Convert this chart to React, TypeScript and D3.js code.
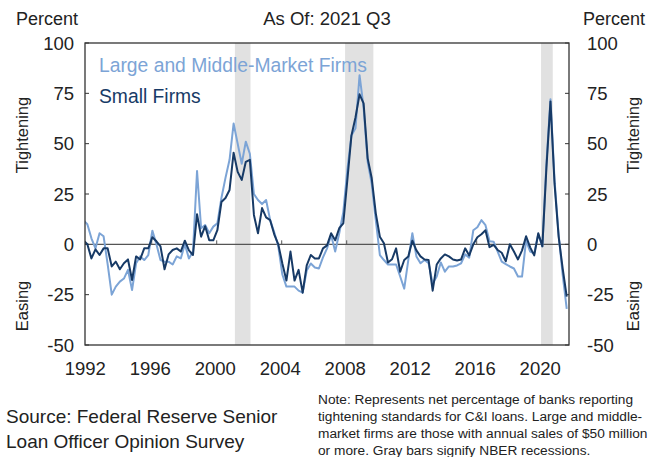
import React from "react";
import * as d3 from "d3";

// Quarterly survey results, 1991 Q4 .. 2021 Q3 (net % of banks tightening)
const startYear = 1991;
const startQuarter = 4;

const largeFirms = [
  12, 10, 3, -2, 5.5, 4, -10, -25, -21, -18.5,
  -17, -12.7, -22.7, -9.4, -6, -7.8, -5.3, 6.8, 0, -7.8,
  -8.6, -8.6, -10, -6, -7, 0, -7, -3.6, 36.4, 8,
  9.6, 5.5, 8.8, 10.4, 23, 33, 42, 60, 50, 40,
  51, 45, 25, 22, 20, 22, 12, 6, -1, -15,
  -21, -21, -21, -23, -24, -13, -9.5, -11.5, -12, -6.5,
  -2, 4.6, -3.6, 5.5, 16, 37, 54, 57.6, 84, 68,
  41, 30, 12, -5.3, -7.8, -10, -10, -10, -16, -22,
  -7.8, 5.5, -6, -9.4, -7.8, -9.4, -19.4, -16, -9, -13.6,
  -11, -11, -10.5, -9.4, -5, -6.6, 7, 8.5, 12, 9.5,
  1.5, 1.3, -3.6, -8.6, -9.8, -11, -12, -16, -16, 2,
  -3.6, -4.5, 5, -1, 40, 72, 32, 5, -15, -32,
];

const smallFirms = [
  2, 0, -7, -2.5, -5.3, -2, -2, -11, -8.6, -12.4,
  -9.4, -7.5, -17.7, -6, -7.5, -2, -2, 3.5, 1.5, -1,
  -12.4, -5, -2.8, -2, -3.6, 1.8, -3, -5.3, 15, 3.8,
  9, 2, 2, 7, 21, 23, 27, 45.5, 36, 32,
  41, 42, 14.6, 5.5, 18, 13.4, 12, 5, 0, -9.5,
  -18, -3.6, -18, -12.7, -24, -10.5, -5.3, -7, -7, -2,
  -0.5, 5.5, 2, 8, 10.4, 32, 54, 63, 74.5, 70,
  42.7, 32.8, 15.4, 3.8, 0.5, -9, -7.4, -2, -13.6, -7.8,
  -6, 1.8, -3, -6, -7.5, -7.8, -23, -10, -7, -5,
  -6, -7.5, -8, -7.5, -2, -5.5, 0, 3.5, 5, 7,
  -1.4, -0.3, -2.8, -4.2, -8.4, 0, -3.6, -7.5, -3, 4,
  -1.5, -5.5, 5.5, -1, 38, 71, 30, 4, -12, -26,
];

// NBER recessions (fractional years)
const recessionStart = [2001.12, 2007.9, 2019.96];
const recessionEnd = [2002.08, 2009.64, 2020.68];

const xTickYears = [1992, 1996, 2000, 2004, 2008, 2012, 2016, 2020];
const yTickValues = [100, 75, 50, 25, 0, -25, -50];

const noteLines = [
  "Note: Represents net percentage of banks reporting",
  "tightening standards for C&I loans. Large and middle-",
  "market firms are those with annual sales of $50 million",
  "or more. Gray bars signify NBER recessions.",
];
const sourceLines = ["Source: Federal Reserve Senior", "Loan Officer Opinion Survey"];

const FONT = "'Liberation Sans', Arial, Helvetica, sans-serif";
const LIGHT = "#7ca4d6";
const DARK = "#173a66";

export default function App() {
  const W = 652;
  const H = 457;
  const left = 85;
  const right = 569;
  const top = 43;
  const bottom = 345;

  const x = d3.scaleLinear().domain([1991.895, 2021.68]).range([left, right]);
  const y = d3.scaleLinear().domain([-50, 100]).range([bottom, top]);

  const dates = largeFirms.map((_, i) => {
    const q = startQuarter - 1 + i;
    const yr = startYear + Math.floor(q / 4);
    const qq = q % 4;
    return yr + qq * 0.25 + 0.04;
  });

  const line = d3
    .line<number>()
    .x((_, i) => x(dates[i]))
    .y((d) => y(d));

  const y0 = y(0);

  return (
    <svg
      width={W}
      height={H}
      style={{ position: "absolute", left: 0, top: 0, background: "#fff" }}
      fontFamily={FONT}
    >
      <defs>
        <clipPath id="plotClip">
          <rect x={left} y={top} width={right - left} height={bottom - top} />
        </clipPath>
      </defs>
      <rect x={0} y={0} width={W} height={H} fill="#fff" />

      {recessionStart.map((s, i) => (
        <rect
          key={"r" + i}
          x={x(s)}
          y={top}
          width={x(recessionEnd[i]) - x(s)}
          height={bottom - top}
          fill="#e1e1e1"
        />
      ))}

      {/* zero line */}
      <line x1={left} x2={right} y1={y0} y2={y0} stroke="#555" strokeWidth={1.2} />
      {xTickYears.slice(1).map((yr) => (
        <line key={"xt" + yr} x1={x(yr)} x2={x(yr)} y1={y0} y2={y0 - 4} stroke="#555" strokeWidth={1} />
      ))}

      {/* y ticks inside frame */}
      {yTickValues.map((v) => (
        <g key={"yt" + v}>
          <line x1={left} x2={left + 4} y1={y(v)} y2={y(v)} stroke="#333" strokeWidth={1} />
          <line x1={right - 4} x2={right} y1={y(v)} y2={y(v)} stroke="#333" strokeWidth={1} />
        </g>
      ))}

      <g clipPath="url(#plotClip)">
        <path d={line(largeFirms) || ""} fill="none" stroke={LIGHT} strokeWidth={2} strokeLinejoin="round" />
        <path d={line(smallFirms) || ""} fill="none" stroke={DARK} strokeWidth={2} strokeLinejoin="round" />
      </g>

      <rect x={left} y={top} width={right - left} height={bottom - top} fill="none" stroke="#333" strokeWidth={1.3} />

      {/* y tick labels */}
      {yTickValues.map((v) => (
        <g key={"yl" + v}>
          <text x={74} y={y(v)} dy="0.36em" textAnchor="end" fontSize={18.5} fill="#222">
            {v}
          </text>
          <text x={587} y={y(v)} dy="0.36em" textAnchor="start" fontSize={18.5} fill="#222">
            {v}
          </text>
        </g>
      ))}

      {/* x tick labels */}
      {xTickYears.map((yr) => (
        <text key={"xl" + yr} x={x(yr) - 1.5} y={375} textAnchor="middle" fontSize={18.5} fill="#222">
          {yr}
        </text>
      ))}

      {/* headers */}
      <text x={16} y={25} fontSize={18} fill="#222">Percent</text>
      <text x={645} y={25} textAnchor="end" fontSize={18} fill="#222">Percent</text>
      <text x={327} y={25} textAnchor="middle" fontSize={18.5} fill="#222">As Of: 2021 Q3</text>

      {/* axis side labels */}
      <text transform="translate(22,135) rotate(-90)" textAnchor="middle" dominantBaseline="central" fontSize={16.5} fill="#222">
        Tightening
      </text>
      <text transform="translate(22,306) rotate(-90)" textAnchor="middle" dominantBaseline="central" fontSize={16.5} fill="#222">
        Easing
      </text>
      <text transform="translate(633,135) rotate(-90)" textAnchor="middle" dominantBaseline="central" fontSize={16.5} fill="#222">
        Tightening
      </text>
      <text transform="translate(633,306) rotate(-90)" textAnchor="middle" dominantBaseline="central" fontSize={16.5} fill="#222">
        Easing
      </text>

      {/* legend */}
      <text x={99} y={72} fontSize={19.3} fill={LIGHT}>Large and Middle-Market Firms</text>
      <text x={99} y={102.5} fontSize={19.3} fill={DARK}>Small Firms</text>

      {/* source */}
      {sourceLines.map((s, i) => (
        <text key={"s" + i} x={6} y={423 + i * 25} fontSize={19} fill="#222">
          {s}
        </text>
      ))}

      {/* note */}
      {noteLines.map((s, i) => (
        <text key={"n" + i} x={318} y={404 + i * 17} fontSize={13.7} fill="#222">
          {s}
        </text>
      ))}
    </svg>
  );
}
